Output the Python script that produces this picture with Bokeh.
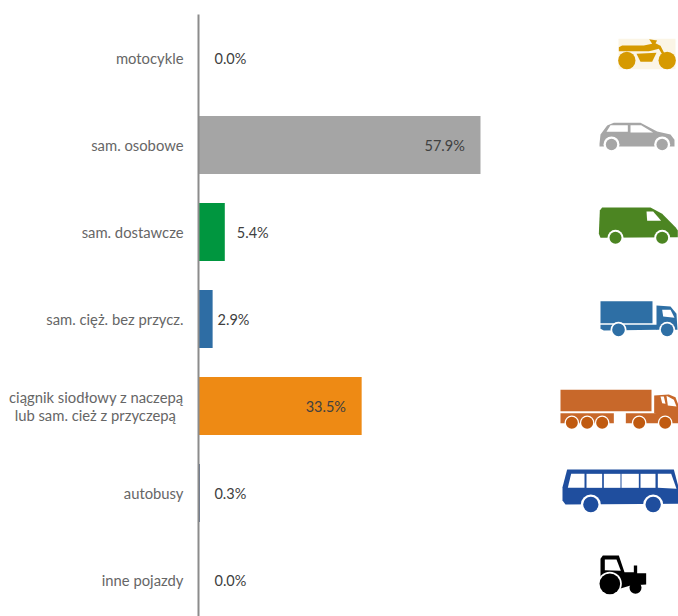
from bokeh.plotting import figure
from bokeh.models import Range1d, FixedTicker, ColumnDataSource, LinearAxis
from bokeh.core.properties import value
from bokeh.embed import file_html
from bokeh.resources import INLINE

categories = ["motocykle", "sam. osobowe", "sam. dostawcze", "sam. cięż. bez przycz.",
              "ciągnik siodłowy z naczepą\nlub sam. cież z przyczepą\u00a0\u00a0", "autobusy", "inne pojazdy"]
shares = [0.0, 57.9, 5.4, 2.9, 33.5, 0.3, 0.0]
labels = ["0.0%", "57.9%", "5.4%", "2.9%", "33.5%", "0.3%", "0.0%"]
bar_colors = ["#D69A00", "#A5A5A5", "#00963F", "#2E6DA4", "#EE8A14", "#5A6E8C", "#000000"]
label_offsets = [16, -56, 12, 5, -56, 14.5, 16]

FONT = "Lato"
PX_PER_UNIT = 282 / 57.9
ys = list(range(len(categories)))

p = figure(width=678, height=616, output_backend="svg", toolbar_location=None,
           x_range=Range1d(0, 480 / PX_PER_UNIT),
           y_range=Range1d((616 - 57.4) / 87, (14 - 57.4) / 87),
           x_axis_location=None, y_axis_location=None,
           min_border_left=198, min_border_right=0, min_border_top=14, min_border_bottom=0,
           outline_line_color=None, background_fill_color=None, border_fill_color="white")
p.grid.visible = False

axis = LinearAxis(ticker=FixedTicker(ticks=ys),
                  major_label_overrides={i: c for i, c in enumerate(categories)},
                  axis_line_color="#8C8C8C", axis_line_width=2,
                  major_tick_line_color=None, minor_tick_line_color=None,
                  major_label_standoff=9,
                  major_label_text_font=FONT, major_label_text_font_size="14.8px",
                  major_label_text_line_height=1.0,
                  major_label_text_color="#666666")
p.add_layout(axis, "left")

src = ColumnDataSource(dict(y=ys, v=shares, c=bar_colors, t=labels, o=label_offsets))
p.hbar(y="y", right="v", left=0, height=58 / 87, fill_color="c", line_color=None, source=src)
p.text(x="v", y="y", text="t", x_offset="o", y_offset=1, text_align="left", text_baseline="middle",
       text_font=value(FONT), text_font_size="14.5px", text_color="#404040", source=src)

# ---- pictograms: outlines in a pixel-sized helper range ----
p.extra_x_ranges["px"] = Range1d(198, 678)
p.extra_y_ranges["px"] = Range1d(616, 14)


def poly(points, color, oy):
    p.patch([550 + a / 3 for a, b in points], [oy + b / 3 for a, b in points],
            fill_color=color, line_color=None, x_range_name="px", y_range_name="px")


def rect(x0, y0, x1, y1, color, oy):
    poly([(x0, y0), (x1, y0), (x1, y1), (x0, y1)], color, oy)


def disc(cx, cy, r, color, oy):
    p.circle(550 + cx / 3, oy + cy / 3, radius=r / 3, fill_color=color, line_color=None,
             x_range_name="px", y_range_name="px")


W = "#FFFFFF"
# motorcycle
c, oy = "#D69A00", 20
rect(204, 55, 375, 146, "#FBF5E6", oy)
poly([(205, 80), (215, 75), (280, 75), (305, 70), (296, 56), (320, 60), (315, 68), (330, 76), (345, 105),
      (340, 110), (325, 85), (305, 90), (295, 92), (205, 92)], c, oy)
poly([(258, 100), (318, 97), (305, 124), (270, 124)], c, oy)
disc(229, 120, 26, c, oy)
disc(350, 120, 26, c, oy)
# car
c = "#A6A6A6"
poly([(147, 370), (150, 342), (170, 315), (190, 307), (270, 307), (320, 333), (360, 342), (372, 358),
      (372, 378), (147, 378)], c, oy)
poly([(168, 334), (180, 314), (232, 314), (232, 334)], W, oy)
poly([(240, 314), (272, 314), (308, 336), (240, 336)], W, oy)
for cx in (183, 335):
    disc(cx, 372, 24, W, oy)
    disc(cx, 372, 17, c, oy)
# van
c = "#4C8522"
poly([(145, 640), (148, 570), (155, 561), (300, 561), (335, 580), (375, 620), (382, 630), (382, 650),
      (150, 652)], c, oy)
poly([(288, 573), (308, 573), (332, 601), (290, 601)], W, oy)
for cx in (195, 335):
    disc(cx, 652, 24, W, oy)
    disc(cx, 652, 18, c, oy)
# truck
oy = 280
c = "#2E6FA5"
rect(150, 62, 306, 128, c, oy)
poly([(150, 133), (320, 133), (320, 148), (160, 150), (150, 145)], c, oy)
poly([(318, 75), (360, 78), (378, 100), (381, 148), (318, 148)], c, oy)
poly([(335, 88), (360, 88), (372, 112), (338, 108)], W, oy)
for cx in (204, 350):
    disc(cx, 148, 24, W, oy)
    disc(cx, 148, 19, c, oy)
# articulated lorry
c, d = "#C8682A", "#C05A10"
rect(30, 328, 303, 392, c, oy)
rect(30, 398, 190, 428, c, oy)
rect(226, 398, 384, 428, c, oy)
poly([(311, 345), (355, 342), (375, 350), (384, 375), (384, 420), (311, 398)], c, oy)
poly([(330, 348), (340, 348), (345, 370), (335, 368)], W, oy)
poly([(348, 346), (370, 358), (378, 378), (352, 375)], W, oy)
for cx in (64, 110, 155, 266, 344):
    disc(cx, 427, 22, W, oy)
    disc(cx, 427, 18, d, oy)
# bus
c = "#1F4E9E"
poly([(50, 567), (370, 567), (384, 620), (384, 670), (45, 672), (36, 660), (36, 620)], c, oy)
poly([(62, 580), (102, 580), (102, 622), (52, 622)], W, oy)
rect(108, 580, 155, 622, W, oy)
rect(160, 580, 210, 622, W, oy)
rect(213, 580, 265, 622, W, oy)
rect(270, 580, 315, 622, W, oy)
poly([(322, 580), (362, 580), (378, 625), (322, 622)], W, oy)
for cx in (121, 308):
    disc(cx, 672, 30, W, oy)
    disc(cx, 672, 23, c, oy)
# tractor
c = "#000000"
poly([(150, 835), (157, 825), (205, 825), (222, 875), (250, 875), (250, 855), (260, 855), (260, 878),
      (287, 878), (287, 912), (240, 915), (190, 930), (150, 890)], c, oy)
poly([(163, 837), (198, 837), (211, 871), (163, 869)], W, oy)
disc(178, 910, 36, W, oy)
disc(178, 910, 31, c, oy)
disc(255, 922, 18, c, oy)

open("out.html", "w").write(file_html(p, INLINE))
